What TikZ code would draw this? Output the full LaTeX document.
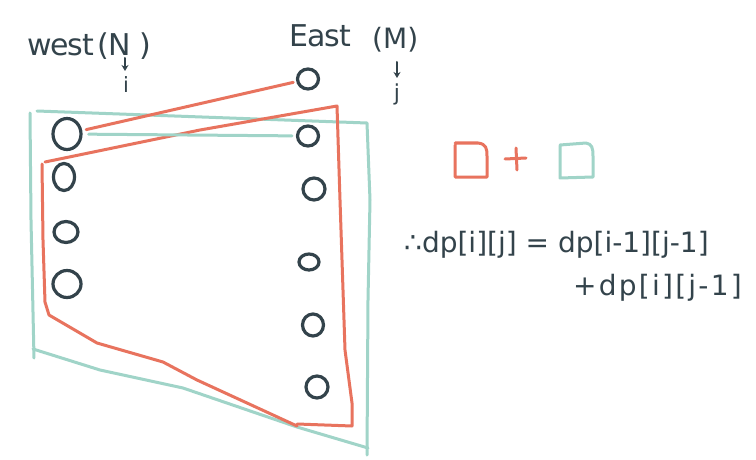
\documentclass[tikz,border=0pt]{standalone}
\usepackage{fontspec}
\setmainfont{DejaVu Sans}
\usetikzlibrary{shapes.geometric,arrows.meta}
\definecolor{redink}{HTML}{E8735E}
\definecolor{tealink}{HTML}{A0D4C8}
\definecolor{darkink}{HTML}{33434B}
\tikzset{
  redline/.style={draw=redink,line width=3pt,line join=round,line cap=round},
  tealline/.style={draw=tealink,line width=3pt,line join=round,line cap=round},
  dot/.style={ellipse,draw=darkink,line width=3.2pt,inner sep=0pt},
  hand/.style={text=darkink,inner sep=0pt,anchor=base west},
  pointer/.style={draw=darkink,line width=2pt,line cap=round,-{Stealth[length=6pt,width=7pt]}}
}
\begin{document}
\begin{tikzpicture}[x=1pt,y=-1pt]
\useasboundingbox (0,0) rectangle (756,460);
\fill[white] (0,0) rectangle (756,460);
% labels
\node[hand,font=\fontsize{30}{32}\selectfont\addfontfeature{LetterSpace=-4}] (west) at (27,56) {west};
\node[hand,font=\fontsize{30}{32}\selectfont] (wn) at (97,56) {(N\hspace{8pt})};
\node[hand,font=\fontsize{30}{32}\selectfont\addfontfeature{LetterSpace=-3}] (east) at (289,47) {East};
\node[hand,font=\fontsize{28}{32}\selectfont] (em) at (372,49) {(M)};
\coordinate (wa1) at (125,58); \coordinate (wa2) at (125,71);
\coordinate (ea1) at (397,62); \coordinate (ea2) at (397,78);
\draw[pointer] (wa1) -- (wa2);
\draw[pointer] (ea1) -- (ea2);
\node[hand,anchor=base,font=\fontsize{21}{22}\selectfont] (wi) at (126,93) {i};
\node[hand,anchor=base,font=\fontsize{22}{24}\selectfont] (ej) at (397,101) {j};
% teal region
\draw[tealline] (37,111) -- (367,123) -- (370,200) -- (368,300) -- (367,455);
\draw[tealline] (30,113) -- (31,220) -- (34,358);
\draw[tealline] (33,349) -- (100,370) -- (183,388) -- (297,427) -- (368,448);
% red region
\draw[redline] (45,162) -- (200,130) -- (337,106) -- (340,200) -- (345,350) -- (352,403) -- (352,426) -- (297,424);
\draw[redline] (42,164) -- (43,240) -- (45,302) -- (49,315) -- (97,343) -- (163,362) -- (197,380) -- (297,426);
% west nodes
\node[dot,minimum width=28pt,minimum height=31pt] (w1) at (67,134) {};
\node[dot,minimum width=21pt,minimum height=27pt] (w2) at (64,177) {};
\node[dot,minimum width=24pt,minimum height=21pt] (w3) at (66,232) {};
\node[dot,minimum width=28pt,minimum height=27pt] (w4) at (67,284) {};
% east nodes
\node[dot,minimum width=21pt,minimum height=20pt] (e1) at (308,79) {};
\node[dot,minimum width=21pt,minimum height=20pt] (e2) at (308,136) {};
\node[dot,minimum width=22pt,minimum height=22pt] (e3) at (314,189) {};
\node[dot,minimum width=20pt,minimum height=16pt] (e4) at (309,262) {};
\node[dot,minimum width=21pt,minimum height=22pt] (e5) at (313,325) {};
\node[dot,minimum width=22pt,minimum height=22pt] (e6) at (317,387) {};
% connectors
\draw[redline,shorten <=4pt,shorten >=3pt] (w1) -- (e1);
\draw[tealline,shorten <=6pt,shorten >=4pt] (w1) -- (e2);
% legend
\draw[redline] (455,143) -- (478,143) .. controls (486,144) and (487,148) .. (487,156) -- (487,177) -- (455,177) -- (455,145);
\coordinate (p1) at (505,159); \coordinate (p2) at (526,158);
\coordinate (p3) at (516,148); \coordinate (p4) at (517,170);
\draw[redline] (p1) -- (p2);
\draw[redline] (p3) -- (p4);
\draw[tealline] (560,145) -- (586,143) .. controls (592,144) and (593,148) .. (593,156) -- (593,177) -- (560,178) -- (560,146);
% formula
\node[hand,font=\fontsize{28}{30}\selectfont] (f1) at (404,252) {∴dp[i][j] = dp[i-1][j-1]};
\node[hand,anchor=base east,font=\fontsize{28}{30}\selectfont\addfontfeature{LetterSpace=8}] (f2) at (742,295) {+dp[i][j-1]};
\end{tikzpicture}
\end{document}
